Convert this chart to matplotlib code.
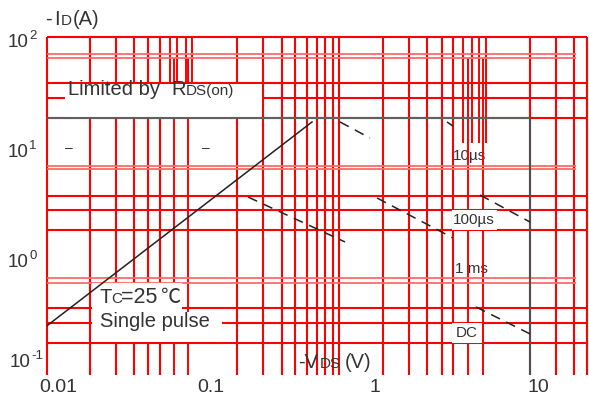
import matplotlib
matplotlib.use("Agg")
import matplotlib.pyplot as plt
from matplotlib.patches import Rectangle
from matplotlib.transforms import Affine2D, ScaledTranslation

plt.rcParams['font.family'] = ['Liberation Sans', 'DejaVu Sans']

W, H = 589, 403

# axis ticks
x_ticks = [0.01, 0.1, 1, 10]
x_tick_labels = ['0.01', '0.1', '1', '10']
y_ticks = [0.1, 1, 10, 100]
y_tick_exps = ['-1', '0', '1', '2']
x_range = [0.01, 19.7]
y_range = [0.0846, 100]

# red grid (volts / amps)
v_grid = [0.01, 0.0184, 0.0265, 0.0341, 0.0415, 0.0491, 0.1446, 0.208, 0.272,
          0.327, 0.387, 0.445, 0.498, 0.557, 0.606, 1.122, 1.617, 2.083,
          2.572, 3.00, 8.85, 12.76, 16.44, 19.7]
v_grid_low = [0.0597, 0.0727, 3.71, 4.57]
v_grid_low_top = 64.4
v_grid_top_left = [0.0565, 0.0623, 0.0707, 0.0769]
v_grid_top_left_end = 38.2
v_grid_top_right = [3.45, 3.92, 4.32, 4.77]
v_grid_top_right_end = 10.9
i_grid = [100, 38.2, 27.9, 18.3, 3.58, 2.67, 1.76, 0.344, 0.251, 0.165]
i_grid_pair = [70.0, 65.1, 6.72, 6.31, 0.644, 0.580]
i_grid_pair_end = 16.9

# limits
i_limit = 18.3
v_limit = 8.85

# RDS(on) line
rds_v = [0.01, 0.415]
rds_i = [0.236, 16.9]

# pulse lines, one list per segment
t10us_v = [[0.614, 0.936], [2.76, 3.00], [4.39, 8.85]]
t10us_i = [[16.9, 12.07], [16.9, 15.5], [3.66, 2.08]]
t100us_v = [[0.169, 0.659], [1.033, 3.00]]
t100us_i = [[3.51, 1.37], [3.44, 1.49]]
dc_v = [4.15, 8.85]
dc_i = [0.351, 0.200]

RED = '#ff0000'
PINK = '#ff6a6a'
TXT = '#333333'

fig = plt.figure(figsize=(W / 100, H / 100), dpi=100)
ax = fig.add_axes([46.7 / W, 1 - 375 / H, (587 - 46.7) / W, (375 - 37) / H])
ax.set_xscale('log')
ax.set_yscale('log')
for s in ax.spines.values():
    s.set_visible(False)

# pixel coordinates from the top-left corner, for labels and boxes
pix = Affine2D().scale(1 / W, -1 / H).translate(0, 1) + fig.transFigure

# grid
ax.vlines(v_grid, y_range[0], y_range[1], colors=RED, lw=1.5, zorder=1, clip_on=False)
ax.vlines(v_grid_low, y_range[0], v_grid_low_top, colors=RED, lw=1.4, zorder=1)
ax.vlines(v_grid_top_left, v_grid_top_left_end, y_range[1], colors=RED, lw=1.4, zorder=1)
ax.vlines(v_grid_top_right, v_grid_top_right_end, y_range[1], colors=RED, lw=1.4, zorder=1)
ax.hlines(i_grid, x_range[0], x_range[1], colors=RED, lw=1.5, zorder=1, clip_on=False)
ax.hlines(i_grid_pair, x_range[0], i_grid_pair_end, colors=PINK, lw=1.3, zorder=1)

# white label boxes
for (x0, y0, w, h) in [(65, 84, 197, 33), (92, 283, 90, 29), (92, 312, 130, 30),
                       (452, 210, 45, 20), (452, 323, 30, 20)]:
    ax.add_patch(Rectangle((x0, y0), w, h, transform=pix, fc='white', ec='none', zorder=2))

# limits
ax.hlines(i_limit, x_range[0], v_limit, colors='#606060', lw=1.5, zorder=4)
ax.vlines(v_limit, y_range[0], i_limit, colors='#505050', lw=1.5, zorder=4)

ax.plot(rds_v, rds_i, color='#222222', lw=1.1, zorder=5)
dash = (0, (6.5, 4.5))
for vs, js in zip(t10us_v, t10us_i):
    ax.plot(vs, js, color='#222222', lw=1.1, ls=dash, zorder=5)
for vs, js in zip(t100us_v, t100us_i):
    ax.plot(vs, js, color='#222222', lw=1.1, ls=dash, zorder=5)
ax.plot(dc_v, dc_i, color='#222222', lw=1.1, ls=dash, zorder=5)

ax.set_xlim(x_range)
ax.set_ylim(y_range)


def txt(x, y, s, size, z=3, family=None):
    ax.text(x, y, s, transform=pix, size=size, ha='left', va='baseline',
            color=TXT, zorder=z, clip_on=False, family=family)


BIG, SMALL = 14.5, 11
txt(45, 25, '-', BIG)
txt(54, 25, 'I', BIG)
txt(61, 25, 'D', SMALL)
txt(73, 25, '(A)', BIG)

txt(68, 95, 'Limited by', BIG)
txt(171, 95, 'R', BIG)
txt(186, 95, 'DS(on)', SMALL)

txt(298, 368, '-V', BIG)
txt(320, 368, 'DS', SMALL)
txt(345, 368, '(V)', BIG)

txt(100, 303, 'T', BIG)
txt(111, 303, 'C', SMALL)
txt(121, 303, '=25', 15.5)
txt(160, 303, '℃', BIG, family=['Noto Sans CJK SC', 'DejaVu Sans'])
txt(100, 327, 'Single pulse', BIG)

txt(453, 160, '10µs', SMALL, z=0.5)
txt(453, 224, '100µs', SMALL)
txt(455, 273, '1 ms', SMALL, z=0.5)
txt(456, 337, 'DC', SMALL)

txt(65, 152, '–', 10)
txt(202, 152, '–', 10)

# ticks
ax.set_xticks(x_ticks)
ax.set_xticklabels(x_tick_labels)
ax.set_yticks(y_ticks)
ax.set_yticklabels([''] * len(y_ticks))
ax.xaxis.set_minor_formatter(plt.NullFormatter())
ax.yaxis.set_minor_formatter(plt.NullFormatter())
ax.tick_params(which='both', length=0, labelsize=14, labelcolor=TXT)
ax.tick_params(axis='x', pad=3)
first = ax.get_xticklabels()[0]
first.set_transform(first.get_transform() + ScaledTranslation(0.12, 0, fig.dpi_scale_trans))

# power-of-ten labels on the current axis
for base_y, x0, exp in zip([367, 267, 157, 47], [10, 8, 8, 8], y_tick_exps):
    txt(x0, base_y, '10', 13.5)
    txt(x0 + 21, base_y - 8, exp, 9.5)

fig.savefig('out.png', dpi=100)
